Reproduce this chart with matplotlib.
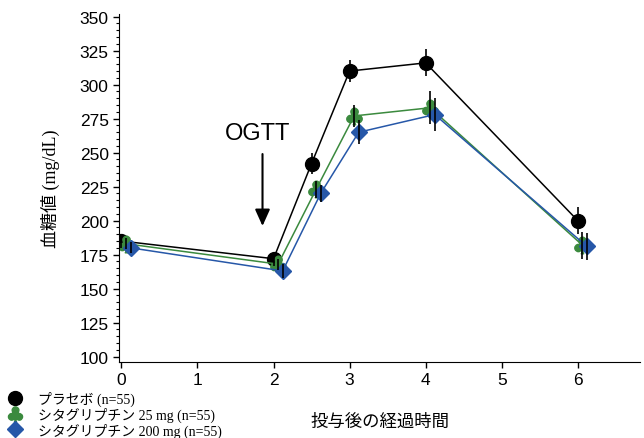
import matplotlib
matplotlib.use("Agg")
from matplotlib import pyplot as plt
from matplotlib.ticker import MultipleLocator
from matplotlib.lines import Line2D

# Data
hours = [0, 2, 2.5, 3, 4, 6]
placebo = [185, 172, 242, 310, 316, 200]
placebo_err = [5, 5, 8, 8, 10, 10]
sita25 = [183, 168, 223, 277, 283, 182]
sita25_err = [4, 4, 6, 8, 12, 10]
sita200 = [180, 163, 220, 265, 278, 181]
sita200_err = [4, 5, 6, 9, 12, 10]

labels = ["プラセボ (n=55)", "シタグリプチン 25 mg (n=55)", "シタグリプチン 200 mg (n=55)"]
colors = ["black", "#3b8a3e", "#2657a8"]
markers = ["o", r"$\clubsuit$", "D"]
msizes = [10, 12, 8]
offsets = [0.0, 0.06, 0.12]

sans = ["Liberation Sans", "DejaVu Sans"]
serif_jp = ["Liberation Serif", "Noto Sans CJK JP"]

fig = plt.figure(figsize=(6.44, 4.39), dpi=100)
ax = fig.add_axes([0.185, 0.173, 0.809, 0.793])

series = [(placebo, placebo_err), (sita25, sita25_err), (sita200, sita200_err)]
for (vals, errs), c, m, ms, off in zip(series, colors, markers, msizes, offsets):
    xs = [h + off for h in hours]
    ax.plot(xs, vals, color=c, lw=1.1, marker=m, markersize=ms, zorder=2)
    ax.errorbar(xs, vals, yerr=errs, fmt="none", ecolor="black", elinewidth=1.2,
                capsize=0, zorder=3)

# OGTT arrow
ax.annotate("", xy=(1.855, 194), xytext=(1.855, 251),
            arrowprops=dict(arrowstyle="-|>,head_width=0.45,head_length=1.0",
                            color="black", lw=1.5))
ax.text(1.79, 256, "OGTT", ha="center", va="bottom", fontsize=17, family=sans)

ax.set_xlim(-0.03, 6.82)
ax.set_ylim(96, 352)
ax.set_xticks([0, 1, 2, 3, 4, 5, 6])
ax.yaxis.set_major_locator(MultipleLocator(25))
ax.yaxis.set_minor_locator(MultipleLocator(5))
ax.spines["top"].set_visible(False)
ax.spines["right"].set_visible(False)
ax.tick_params(axis="both", direction="out", labelsize=12.5, length=4, width=1)
ax.tick_params(axis="y", which="minor", length=2.5, width=0.8)
for lbl in ax.get_xticklabels() + ax.get_yticklabels():
    lbl.set_family(sans)

ax.set_ylabel("血糖値 (mg/dL)", fontsize=13, family=serif_jp, labelpad=14)
ax.set_xlabel("投与後の経過時間", fontsize=12.5, family=serif_jp, labelpad=19)

# legend below the axes, bottom-left of the figure
legend_sizes = [10, 11, 8]
handles = [Line2D([], [], color=c, marker=m, markersize=ms, linestyle="none")
           for c, m, ms in zip(colors, markers, legend_sizes)]
fig.legend(handles, labels, loc="upper left", bbox_to_anchor=(0.0, 1 - 385 / 439),
           frameon=False, prop={"family": serif_jp, "size": 10},
           handletextpad=1.0, labelspacing=0.05, borderaxespad=0.1,
           handlelength=1.2, handleheight=0.9)

fig.savefig("out.png", dpi=100)
